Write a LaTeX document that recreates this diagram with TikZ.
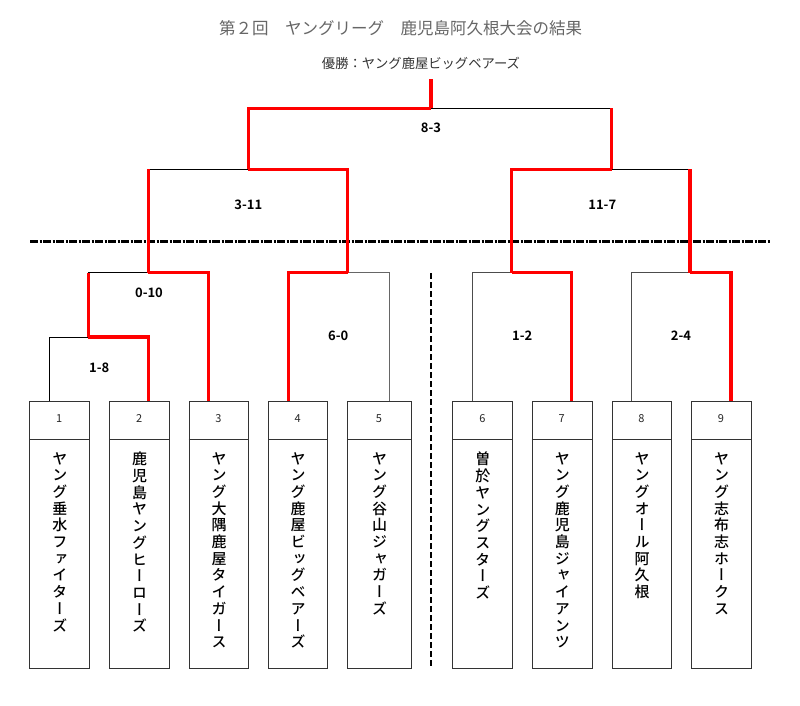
\documentclass[tikz,border=0pt]{standalone}
\usepackage{fontspec}
\setmainfont{Noto Sans CJK JP}
\newfontfamily\vjp[RawFeature=+vert]{Noto Sans CJK JP Medium}
\newfontfamily\bjp{Noto Sans CJK JP Bold}
\makeatletter
\def\vstackA#1{\ifx#1\relax\else\hbox to 20pt{\hss#1\hss}\expandafter\vstackA\fi}
\newcommand\vstack[1]{\vtop{\baselineskip=16.7pt\lineskiplimit=-20pt\lineskip=0pt\vstackA#1\relax}}
\makeatother
\definecolor{titlegray}{HTML}{666666}
\definecolor{winred}{HTML}{FF0000}
\tikzset{
  teambox/.style={draw=black!80, line width=1.1pt, minimum width=60pt, minimum height=267pt, anchor=north west, inner sep=0pt},
  numtext/.style={font=\fontsize{11}{13}\selectfont, text=black!85},
  nametext/.style={font=\vjp\fontsize{15}{16.7}\selectfont, anchor=north, inner sep=0pt},
  score/.style={font=\bjp\fontsize{13}{15}\selectfont, inner sep=0pt},
  thin/.style={draw=black, line width=0.9pt},
  win/.style={draw=winred, line width=3.2pt},
}
\begin{document}
\begin{tikzpicture}[x=1pt,y=-1pt]
\useasboundingbox (0,0) rectangle (800,706);
\fill[white] (0,0) rectangle (800,706);
% titles
\node[font=\fontsize{16.5}{18}\selectfont, text=titlegray] (title) at (400.5,28) {第２回　ヤングリーグ　鹿児島阿久根大会の結果};
\node[font=\fontsize{13.3}{15}\selectfont, text=black!80] (champion) at (421,63) {優勝：ヤング鹿屋ビッグベアーズ};
% boxes
\foreach \n/\l/\w in {1/29.3/60,2/109.3/59.7,3/188.7/59.6,4/268/59.3,5/347.3/63.4,6/452.3/60,7/531.7/60,8/612/59,9/691.3/59.4}{
  \node[teambox, minimum width=\w pt] (b\n) at (\l,400.7) {};
  \draw[draw=black!80, line width=1.1pt] (\l,439.3) -- (\l+\w,439.3);
  \node[numtext] (n\n) at (\l+\w/2,419) {\n};
}
\node[nametext] (t1) at (b1.north |- 0,452) {\vstack{ヤング垂水ファイターズ}};
\node[nametext] (t2) at (b2.north |- 0,452) {\vstack{鹿児島ヤングヒーローズ}};
\node[nametext] (t3) at (b3.north |- 0,452) {\vstack{ヤング大隅鹿屋タイガース}};
\node[nametext] (t4) at (b4.north |- 0,452) {\vstack{ヤング鹿屋ビッグベアーズ}};
\node[nametext] (t5) at (b5.north |- 0,452) {\vstack{ヤング谷山ジャガーズ}};
\node[nametext] (t6) at (b6.north |- 0,452) {\vstack{曽於ヤングスターズ}};
\node[nametext] (t7) at (b7.north |- 0,452) {\vstack{ヤング鹿児島ジャイアンツ}};
\node[nametext] (t8) at (b8.north |- 0,452) {\vstack{ヤングオール阿久根}};
\node[nametext] (t9) at (b9.north |- 0,452) {\vstack{ヤング志布志ホークス}};
% leg points on box tops
\coordinate (a1) at (49,400.7);
\coordinate (a2) at (148.3,400.7);
\coordinate (a3) at (208.3,400.7);
\coordinate (a4) at (288.3,400.7);
\coordinate (a5) at (389.3,400.7);
\coordinate (a6) at (472.7,400.7);
\coordinate (a7) at (571.7,400.7);
\coordinate (a8) at (631,400.7);
\coordinate (a9) at (731,400.7);
% junctions
\coordinate (j18) at (88.3,337);
\coordinate (j010) at (148.3,272.7);
\coordinate (j60) at (347.7,272.7);
\coordinate (j311) at (248.3,169.3);
\coordinate (jF) at (431,108.3);
\coordinate (j117) at (611.7,169.3);
\coordinate (j12) at (511.7,272.7);
\coordinate (j24) at (690,272.7);
\coordinate (champ) at (431,79);
% separators
\coordinate (hl) at (30,241.7);
\coordinate (hr) at (770,241.7);
\coordinate (vt) at (431,273);
\coordinate (vb) at (431,667);
\draw[line width=2.6pt, dash pattern=on 8pt off 1.5pt on 2pt off 1.5pt] (hl) -- (hr);
\draw[line width=1.6pt, dash pattern=on 6pt off 3pt] (vt) -- (vb);
% thin lines
\draw[thin] (a1) |- (j18);
\draw[thin] (j18 |- j010) -- (j010);
\draw[thin] (j010 |- j311) -- (j311);
\draw[thin, draw=black!60] (j60) -| (a5);
\draw[thin] (jF) -- (jF -| j117);
\draw[thin] (j117) -- (j117 -| j24);
\draw[thin, draw=black!70] (a6) |- (j12);
\draw[thin, draw=black!70] (a8) |- (j24);
% winner lines
\draw[win] (j18) -| (a2);
\draw[win] (j18) -- (j18 |- j010);
\draw[win] (j010) -| (a3);
\draw[win] (j010) -- (j010 |- j311);
\draw[win] (a4) |- (j60);
\draw[win] (j311) -| (j60);
\draw[win] (j311) |- (jF);
\draw[win] (jF) -- (champ);
\draw[win] (jF -| j117) -- (j117);
\draw[win] (j117) -| (j12);
\draw[win] (j117 -| j24) -- (j24);
\draw[win] (j12) -| (a7);
\draw[win] (j24) -| (a9);
% scores
\node[score] (s18) at (99.3,368) {1-8};
\node[score] (s010) at (149,293.3) {0-10};
\node[score] (s60) at (338.3,336) {6-0};
\node[score] (s311) at (248.3,205) {3-11};
\node[score] (s83) at (431,128) {8-3};
\node[score] (s117) at (602.3,205) {11-7};
\node[score] (s12) at (522.3,336) {1-2};
\node[score] (s24) at (681,336) {2-4};
\end{tikzpicture}
\end{document}
